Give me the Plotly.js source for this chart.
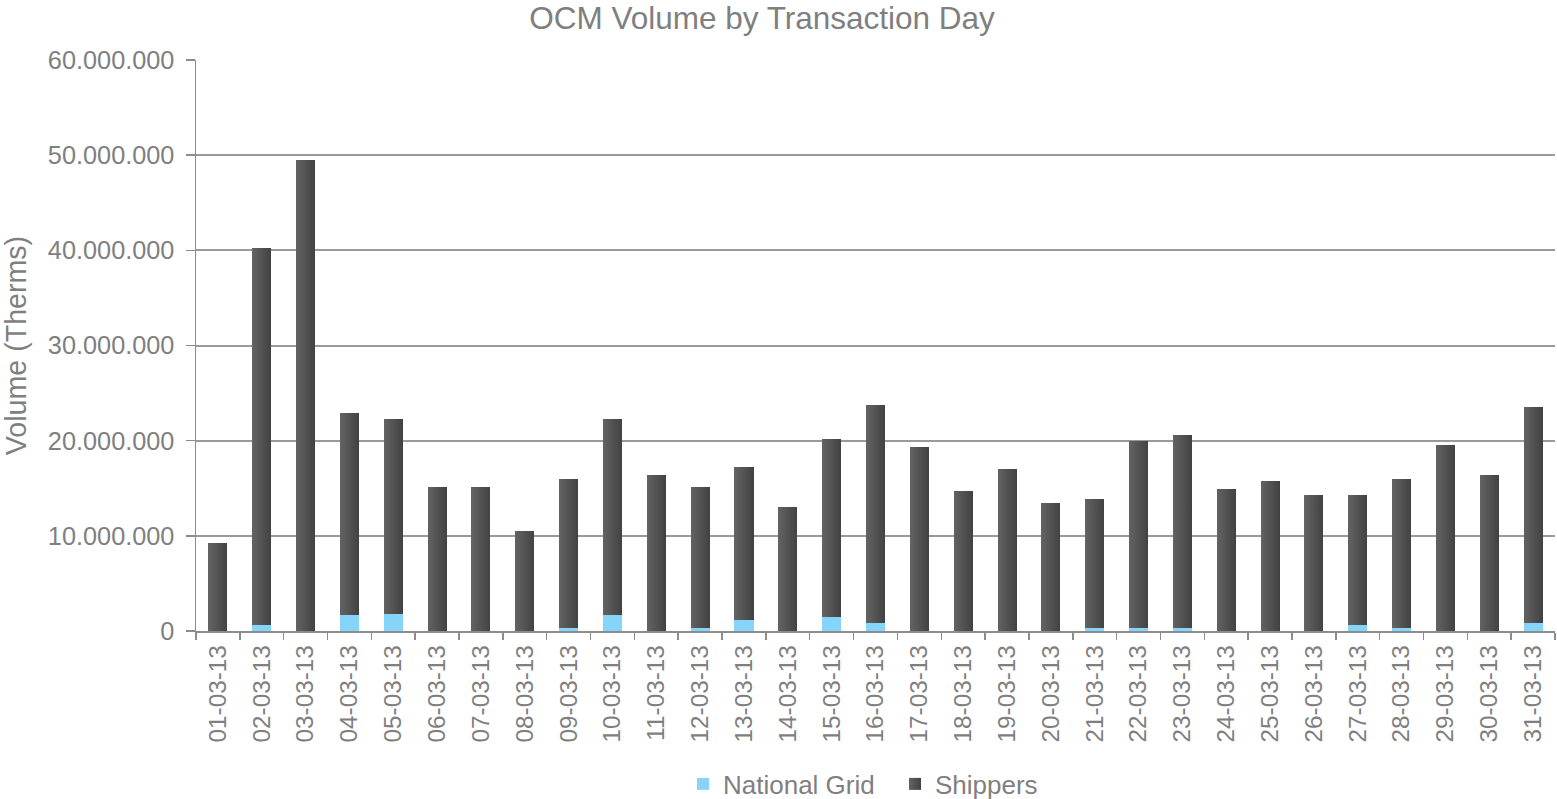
<!DOCTYPE html>
<html>
<head>
<meta charset="utf-8">
<script src="https://cdn.plot.ly/plotly-3.0.1.min.js"></script>
<style>
html,body{margin:0;padding:0;background:#fff;}
#chart{width:1557px;height:799px;}
</style>
</head>
<body>
<div id="chart"></div>
<script>
const days = ["01-03-13","02-03-13","03-03-13","04-03-13","05-03-13","06-03-13","07-03-13","08-03-13","09-03-13","10-03-13",
"11-03-13","12-03-13","13-03-13","14-03-13","15-03-13","16-03-13","17-03-13","18-03-13","19-03-13","20-03-13",
"21-03-13","22-03-13","23-03-13","24-03-13","25-03-13","26-03-13","27-03-13","28-03-13","29-03-13","30-03-13","31-03-13"];

const nationalGrid = [0, 630000, 0, 1680000, 1790000, 0, 0, 0, 300000, 1680000,
0, 300000, 1160000, 50000, 1470000, 840000, 0, 0, 0, 0,
300000, 300000, 300000, 0, 0, 0, 630000, 300000, 0, 0, 840000];

const shippers = [9230000, 39570000, 49450000, 21220000, 20510000, 15150000, 15150000, 10500000, 15700000, 20620000,
16400000, 14850000, 16090000, 13000000, 18730000, 22960000, 19350000, 14700000, 17050000, 13400000,
13600000, 19700000, 20300000, 14950000, 15800000, 14300000, 13670000, 15700000, 19550000, 16400000, 22710000];

const yTicks = [0, 10000000, 20000000, 30000000, 40000000, 50000000, 60000000];

const txt = '#7f7f7f';
const fontFam = '"Liberation Sans", Arial, Helvetica, sans-serif';

const traces = [
  {type:'bar', name:'National Grid', x:days, y:nationalGrid, marker:{color:'#86d4fa'}, legend:'legend'},
  {type:'bar', name:'Shippers', x:days, y:shippers, marker:{color:'#525252'}, legend:'legend2'}
];

const legendBase = {orientation:'h', xref:'container', xanchor:'left', yref:'container',
  y:1-784/799, yanchor:'middle', font:{size:26, color:txt}, itemwidth:30, bgcolor:'rgba(0,0,0,0)'};

const layout = {
  width:1557, height:799,
  paper_bgcolor:'#fff', plot_bgcolor:'#fff',
  separators:',.',
  barmode:'stack', bargap:0.566,
  margin:{l:196, r:2, t:60, b:168},
  font:{family:fontFam, color:txt},
  title:{text:'OCM Volume by Transaction Day', font:{size:31.5, color:txt, family:fontFam},
         xref:'container', x:0.4894, xanchor:'center', yref:'container', y:1-18/799, yanchor:'middle'},
  xaxis:{type:'category', tickangle:-90, tickfont:{size:24.3, color:txt},
         showline:true, linecolor:'#8c8c8c', linewidth:1.5,
         ticks:'outside', ticklen:7, tickcolor:'#8c8c8c', tickwidth:1.5, tickson:'boundaries',
         ticklabelstandoff:3, showgrid:false, fixedrange:true},
  yaxis:{range:[0,60000000], tickvals:yTicks, tickformat:',d', tickfont:{size:25.3, color:txt},
         showline:true, linecolor:'#8c8c8c', linewidth:1.5,
         ticks:'outside', ticklen:9, tickcolor:'#8c8c8c', tickwidth:1.5, ticklabelstandoff:6,
         showgrid:true, gridcolor:'#9a9a9a', gridwidth:2, zeroline:false,
         title:{text:'Volume (Therms)', font:{size:28.6, color:txt}, standoff:14}},
  showlegend:true,
  legend:Object.assign({}, legendBase, {x:683/1557}),
  legend2:Object.assign({}, legendBase, {x:895/1557})
};

Plotly.newPlot('chart', traces, layout, {displayModeBar:false, staticPlot:true}).then(function(gd){
  const svg = gd.querySelector('svg.main-svg');
  const ns = 'http://www.w3.org/2000/svg';
  let defs = svg.querySelector('defs');
  if(!defs){ defs = document.createElementNS(ns,'defs'); svg.insertBefore(defs, svg.firstChild); }
  const grad = document.createElementNS(ns,'linearGradient');
  grad.setAttribute('id','shipGrad');
  grad.setAttribute('x1','0'); grad.setAttribute('y1','0');
  grad.setAttribute('x2','1'); grad.setAttribute('y2','0');
  [['0%','#636363'],['100%','#424242']].forEach(function(s){
    const st = document.createElementNS(ns,'stop');
    st.setAttribute('offset', s[0]); st.setAttribute('stop-color', s[1]);
    grad.appendChild(st);
  });
  defs.appendChild(grad);
  const barTraces = gd.querySelectorAll('.barlayer .trace.bars');
  if(barTraces.length > 1){
    barTraces[1].querySelectorAll('path').forEach(function(p){ p.style.fill = 'url(#shipGrad)'; });
  }
  gd.querySelectorAll('.legend2 .legendpoints path').forEach(function(p){ p.style.fill = 'url(#shipGrad)'; });
});
</script>
</body>
</html>
